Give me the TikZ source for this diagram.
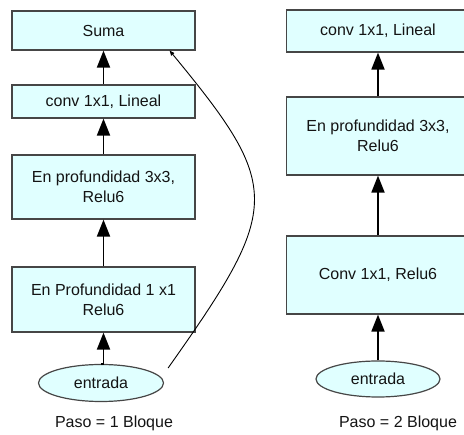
\documentclass[tikz,border=0pt]{standalone}
\usepackage{fontspec}
\setmainfont{Liberation Sans}
\usetikzlibrary{arrows.meta,shapes.geometric,calc}
\definecolor{boxfill}{RGB}{224,255,255}
\definecolor{boxline}{RGB}{70,70,70}
\definecolor{inktext}{RGB}{20,20,20}
\begin{document}
\begin{tikzpicture}[x=1pt,y=-1pt,
  every node/.style={font=\fontsize{16}{20}\selectfont, text=inktext},
  layer/.style={draw=boxline, line width=1.2pt, fill=boxfill, rectangle,
    minimum width=183pt, inner sep=0pt, align=center},
  inputnode/.style={draw=boxline, line width=1.2pt, fill=boxfill, ellipse,
    minimum width=125pt, minimum height=37pt, inner sep=0pt},
  flow/.style={draw=black, line width=1.8pt,
    -{Triangle[length=17pt,width=13pt]}},
  skipline/.style={draw=black, line width=0.9pt,
    -{Triangle[length=5pt,width=4pt]}}]
\useasboundingbox (0,0) rectangle (464,435);
\clip (0,0) rectangle (464,435);

% stride 1 block
\node[layer, minimum height=39pt] (suma) at (103.5,30.5) {Suma};
\node[layer, minimum height=33pt] (lin1) at (103.5,101.5) {conv 1x1, Lineal};
\node[layer, minimum height=64pt] (dw1) at (103.5,187) {En profundidad 3x3,\\Relu6};
\node[layer, minimum height=65pt] (pw1) at (103.5,299.5) {En Profundidad 1 x1\\Relu6};
\node[inputnode] (in1) at (101,383) {entrada};
\node (cap1) at (114,423) {Paso = 1 Bloque};

\draw[flow] (in1.north) -- (in1.north -| pw1.south) -- (pw1.south);
\draw[flow] (pw1) -- (dw1);
\draw[flow] (dw1) -- (lin1);
\draw[flow] (lin1) -- (suma);

% residual connection
\coordinate (skipA) at ($(in1.east)+(4,-15)$);
\coordinate (skipB) at ($(suma.south east)+(-26,0)$);
\draw[skipline] (skipA) .. controls (282,207) and (283,188) .. (skipB);

% stride 2 block
\node[layer, minimum height=42pt] (lin2) at (378,31) {conv 1x1, Lineal};
\node[layer, minimum height=78pt] (dw2) at (378,136) {En profundidad 3x3,\\Relu6};
\node[layer, minimum height=78pt] (pw2) at (378,275) {Conv 1x1, Relu6};
\node[inputnode, minimum width=124pt, minimum height=36pt] (in2) at (378,379) {entrada};
\node (cap2) at (398,423) {Paso = 2 Bloque};

\draw[flow] (in2) -- (pw2);
\draw[flow] (pw2) -- (dw2);
\draw[flow] (dw2) -- (lin2);
\end{tikzpicture}
\end{document}
